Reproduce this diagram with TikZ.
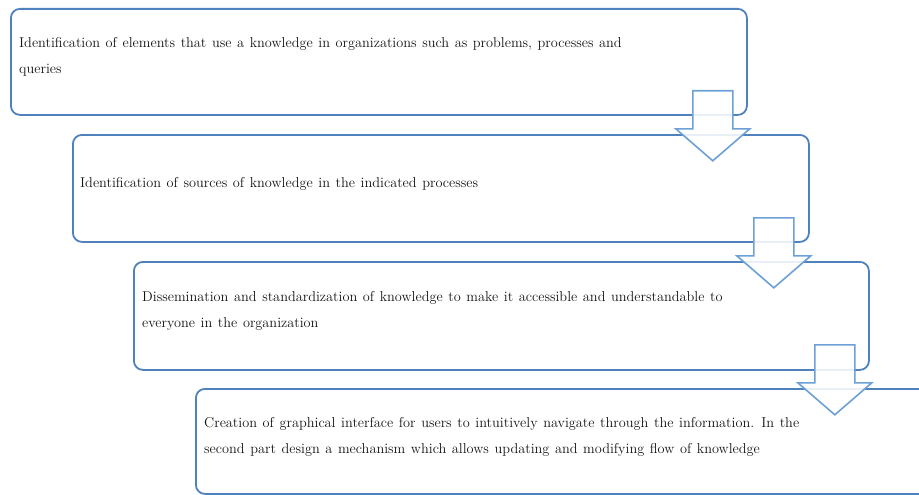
\documentclass[tikz,border=0pt]{standalone}
\usepackage{fontspec}
\definecolor{boxblue}{RGB}{79,129,189}
\definecolor{arrowblue}{RGB}{108,160,214}
\definecolor{textgray}{RGB}{20,20,20}
\newcommand\myboxfont{\fontsize{14.3}{26}\selectfont\spaceskip 5.6pt plus 1pt minus 1pt\relax}
\begin{document}
\begin{tikzpicture}[x=1pt,y=-1pt,
  box/.style={draw=boxblue, line width=1.8pt, rounded corners=9pt, anchor=north west, minimum height=106pt, inner sep=0pt},
  txt/.style={anchor=west, align=left, text=textgray, font=\myboxfont, inner sep=0pt},
  arrowshape/.style={draw=arrowblue, line width=1.6pt, fill=white, fill opacity=0.88, line join=miter},
  downarrow/.pic={\draw[arrowshape] (-20,0) -- (20,0) -- (20,38) -- (37,38) -- (0,70) -- (-37,38) -- (-20,38) -- cycle;}]
\useasboundingbox (0,0) rectangle (919,495);
\clip (0,0) rectangle (919,495);
\node[box, minimum width=736pt] (b1) at (10,8) {};
\node[box, minimum width=736pt, minimum height=107pt] (b2) at (72,134) {};
\node[box, minimum width=735pt, minimum height=108pt] (b3) at (133,261) {};
\node[box, minimum width=760pt, minimum height=105pt] (b4) at (195,388) {};
\node[txt] (t1) at (19,57) {Identification of elements that use a knowledge in organizations such as problems, processes and\\queries};
\node[txt] (t2) at (80,184) {Identification of sources of knowledge in the indicated processes};
\node[txt] (t3) at (142,311) {Dissemination and standardization of knowledge to make it accessible and understandable to\\everyone in the organization};
\node[txt] (t4) at (204,437) {Creation of graphical interface for users to intuitively navigate through the information. In the\\second part design a mechanism which allows updating and modifying flow of knowledge};
\path (b1.south east) ++(-35,-25) pic {downarrow};
\path (b2.south east) ++(-36,-25) pic {downarrow};
\path (b3.south east) ++(-35,-26) pic {downarrow};
\end{tikzpicture}
\end{document}
